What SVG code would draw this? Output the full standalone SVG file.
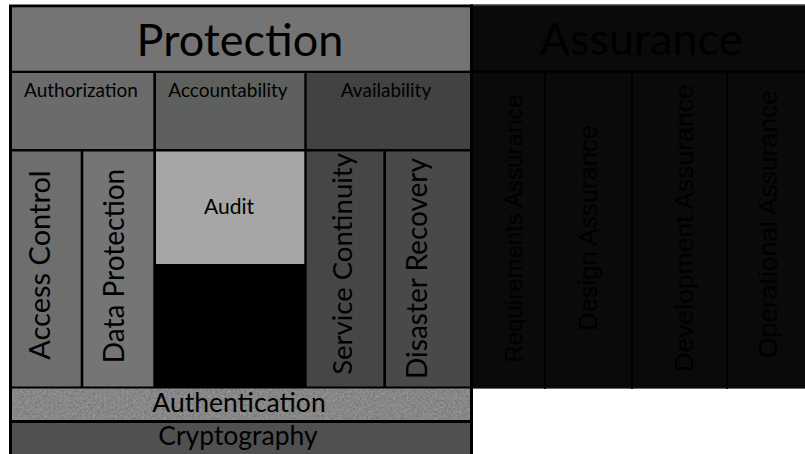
<svg xmlns="http://www.w3.org/2000/svg" width="805" height="454" viewBox="0 0 805 454">
  <style>
    .lbl { font-family: Lato, "Open Sans", sans-serif; fill: #000; text-anchor: middle; }
    .asr { font-family: "Liberation Sans", Arial, sans-serif; fill: #000; text-anchor: middle; }
    .title { font-size: 45px; }
    .sub { font-size: 19px; }
    .col { font-size: 28px; }
    .base { font-size: 26.5px; }
  </style>
  <defs>
    <!-- grainy grey surface used by the Authentication band -->
    <filter id="grain" x="0" y="0" width="100%" height="100%" color-interpolation-filters="sRGB">
      <feTurbulence type="fractalNoise" baseFrequency="0.45" numOctaves="3" seed="7" result="n"/>
      <feColorMatrix in="n" type="matrix" values="0.12 0.12 0.12 0 0.35  0.12 0.12 0.12 0 0.35  0.12 0.12 0.12 0 0.35  0 0 0 0 1" result="g"/>
      <feComposite in="g" in2="SourceGraphic" operator="in"/>
    </filter>
  </defs>

  <rect width="805" height="454" fill="#fff"/>

  <!-- Assurance block -->
  <g id="assurance">
    <rect x="470" y="4.5" width="335" height="384.5" fill="#0a0a0a"/>
    <line x1="470" y1="5" x2="805" y2="5" stroke="#5a5a5a" stroke-width="1"/>
    <line x1="470" y1="388.5" x2="805" y2="388.5" stroke="#6a6a6a" stroke-width="1"/>
    <line x1="470" y1="71.5" x2="805" y2="71.5" stroke="#000" stroke-width="2.5"/>
    <text class="lbl title" x="641" y="55">Assurance</text>
  </g>
  <g id="requirements-assurance">
    <text class="asr" font-size="24" transform="translate(522,228.5) rotate(-90)">Requirements Assurance</text>
  </g>
  <g id="design-assurance">
    <line x1="545" y1="72" x2="545" y2="389" stroke="#000" stroke-width="2"/>
    <text class="asr" font-size="25.5" transform="translate(597,228) rotate(-90)">Design Assurance</text>
  </g>
  <g id="development-assurance">
    <line x1="632" y1="72" x2="632" y2="389" stroke="#000" stroke-width="2"/>
    <text class="asr" font-size="26.5" transform="translate(693,228) rotate(-90)">Development Assurance</text>
  </g>
  <g id="operational-assurance">
    <line x1="727" y1="72" x2="727" y2="389" stroke="#000" stroke-width="2"/>
    <text class="asr" font-size="26.5" transform="translate(777,224) rotate(-90)">Operational Assurance</text>
  </g>

  <!-- Protection frame: black backing shows through as the grid lines -->
  <rect x="9" y="4.5" width="464" height="449.5" fill="#000"/>

  <g id="protection">
    <rect x="12" y="7.3" width="458" height="63.4" fill="#747474"/>
    <text class="lbl title" x="240" y="56">Protection</text>
  </g>

  <g id="authorization">
    <rect x="12" y="73" width="141.3" height="76" fill="#6b6b6b"/>
    <text class="lbl sub" x="81" y="97">Authorization</text>
  </g>
  <g id="accountability">
    <rect x="156" y="73" width="148.3" height="76" fill="#5d605d"/>
    <text class="lbl sub" x="228" y="97">Accountability</text>
  </g>
  <g id="availability">
    <rect x="306.7" y="73" width="163.3" height="76" fill="#424242"/>
    <text class="lbl sub" x="386" y="97">Availability</text>
  </g>

  <g id="access-control">
    <rect x="12" y="151.5" width="68.7" height="235" fill="#6e6e6e"/>
    <text class="lbl" font-size="29" transform="translate(50,265) rotate(-90)">Access Control</text>
  </g>
  <g id="data-protection">
    <rect x="83.3" y="151.5" width="70" height="235" fill="#757575"/>
    <text class="lbl col" transform="translate(124,266) rotate(-90)">Data Protection</text>
  </g>
  <g id="audit">
    <rect x="156" y="151.5" width="148.3" height="112.5" fill="#a6a6a6"/>
    <text class="lbl" font-size="21" x="229" y="214">Audit</text>
  </g>
  <g id="service-continuity">
    <rect x="306.7" y="151.5" width="76.6" height="235" fill="#464646"/>
    <text class="lbl" font-size="27.5" transform="translate(352,264) rotate(-90)">Service Continuity</text>
  </g>
  <g id="disaster-recovery">
    <rect x="386" y="151.5" width="84" height="235" fill="#494949"/>
    <text class="lbl col" transform="translate(427,268.5) rotate(-90)">Disaster Recovery</text>
  </g>

  <g id="authentication">
    <rect x="12" y="388.5" width="458" height="31.5" fill="#878787" filter="url(#grain)"/>
    <text class="lbl base" x="239" y="412">Authentication</text>
  </g>
  <g id="cryptography">
    <rect x="12" y="423" width="458" height="31" fill="#505050"/>
    <text class="lbl base" x="238" y="445">Cryptography</text>
  </g>

  <!-- no connectors in this diagram -->
  <g id="connectors"/>
</svg>
